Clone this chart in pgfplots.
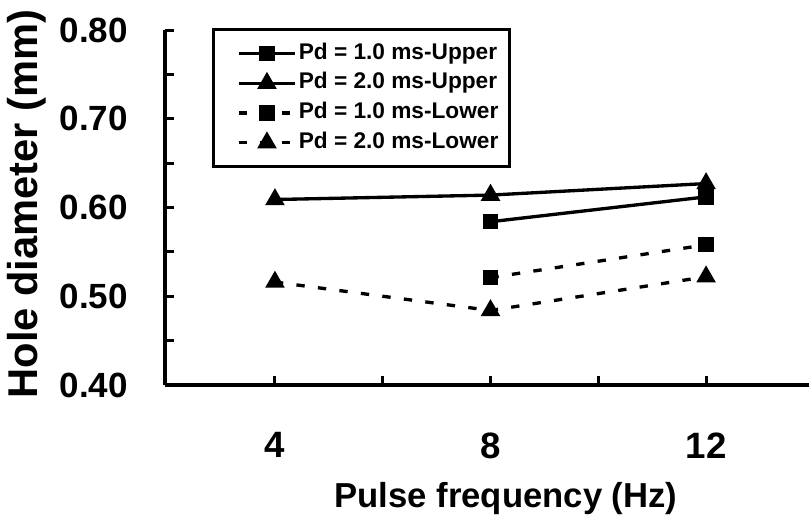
\documentclass[border=0pt]{standalone}
\usepackage{pgfplots}
\pgfplotsset{compat=1.18}
\usepackage{fontspec}
\setmainfont{Liberation Sans}
\begin{document}
\begin{tikzpicture}
\begin{axis}[
  scale only axis,
  width=193.2pt, height=106.5pt,
  xmin=1.96, xmax=13.91,
  ymin=0.40, ymax=0.80,
  axis x line*=bottom, axis y line*=left,
  axis line style={-, line width=1.2pt},
  tick align=inside,
  xtick={4,8,12}, minor xtick={6,10},
  ytick={0.40,0.50,0.60,0.70,0.80}, minor ytick={0.45,0.55,0.65,0.75},
  major tick length=2.6pt, minor tick length=2.6pt,
  every tick/.style={line width=0.9pt, black},
  every minor tick/.style={line width=0.9pt, black},
  /pgf/number format/assume math mode=true,
  yticklabel style={/pgf/number format/fixed, /pgf/number format/fixed zerofill, /pgf/number format/precision=2, font=\fontsize{10.5}{12}\selectfont\bfseries},
  xticklabel style={font=\fontsize{11}{13}\selectfont\bfseries},
  yticklabel shift=7.6pt,
  xticklabel shift=10.7pt,
  xlabel={Pulse frequency (Hz)},
  ylabel={Hole diameter (mm)},
  xlabel style={font=\fontsize{10.4}{13}\selectfont\bfseries, at={(axis description cs:0.5295,0)}, anchor=base, yshift=-36.6pt},
  ylabel style={font=\fontsize{12.5}{14}\selectfont\bfseries, at={(axis description cs:-0.214,0.51)}, anchor=center},
  legend style={at={(axis description cs:0.073,1.006)}, anchor=north west, draw=black, line width=0.9pt,
    font=\fontsize{6.8}{8}\selectfont\bfseries, row sep=1.5pt, inner xsep=2.8pt, inner ysep=3.5pt,
    nodes={inner sep=0.5pt}, legend cell align=left},
  legend image code/.code={\path (-4.2pt,0pt);\draw[mark repeat=2,mark phase=2] plot coordinates {(0cm,0cm) (0.3cm,0cm) (0.6cm,0cm)};},
]
\addplot[black, line width=1pt, mark=square*, mark size=1.8pt] coordinates {(8,0.584) (12,0.612)};
\addlegendentry{Pd = 1.0 ms-Upper}
\addplot[black, line width=1pt, mark=triangle*, mark size=2.4pt] coordinates {(4,0.609) (8,0.614) (12,0.627)};
\addlegendentry{Pd = 2.0 ms-Upper}
\addplot[black, line width=1pt, dash pattern=on 2.5pt off 4pt, mark=square*, mark size=1.8pt, mark options={solid}] coordinates {(8,0.521) (12,0.558)};
\addlegendentry{Pd = 1.0 ms-Lower}
\addplot[black, line width=1pt, dash pattern=on 2.5pt off 4pt, mark=triangle*, mark size=2.4pt, mark options={solid}] coordinates {(4,0.516) (8,0.484) (12,0.522)};
\addlegendentry{Pd = 2.0 ms-Lower}
\end{axis}
\pgfresetboundingbox
\path[use as bounding box] (-49.5pt,-42.6pt) rectangle (193.2pt,115.5pt);
\end{tikzpicture}
\end{document}
